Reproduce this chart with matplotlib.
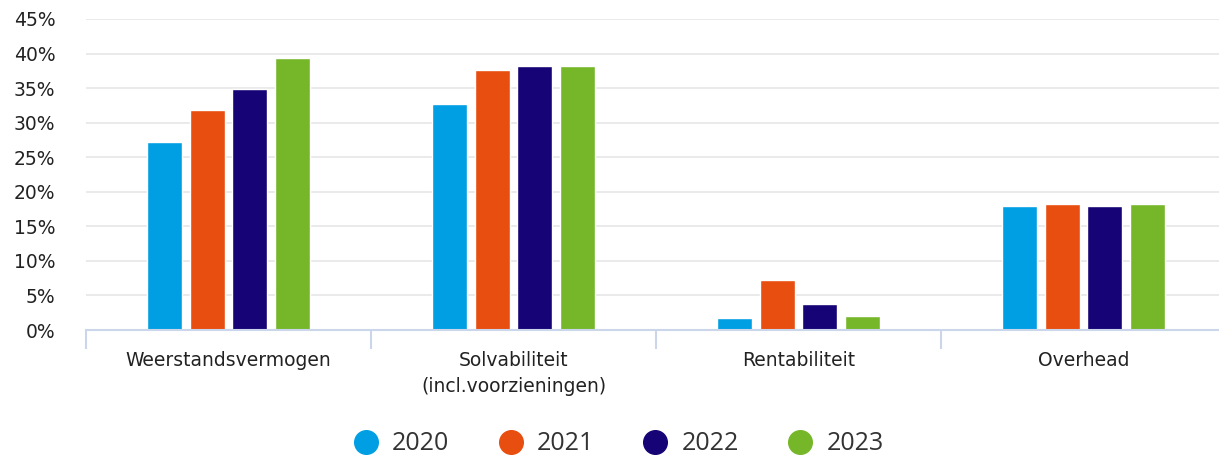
import matplotlib
matplotlib.use("Agg")
import matplotlib.pyplot as plt
from matplotlib.lines import Line2D
from matplotlib.ticker import FuncFormatter, FixedLocator
import numpy as np

plt.rcParams["font.family"] = ["DejaVu Sans"]

categories = ["Weerstandsvermogen", "Solvabiliteit\n(incl.voorzieningen)", "Rentabiliteit", "Overhead"]
years = ["2020", "2021", "2022", "2023"]
v2020 = [27.2, 32.7, 1.7, 17.9]
v2021 = [31.9, 37.6, 7.2, 18.2]
v2022 = [34.8, 38.2, 3.8, 17.9]
v2023 = [39.4, 38.2, 2.0, 18.2]
series = [v2020, v2021, v2022, v2023]
colors = ["#009FE3", "#E84E0F", "#160375", "#76B72A"]
yticks = [0, 5, 10, 15, 20, 25, 30, 35, 40, 45]

W, H = 1219, 457
fig = plt.figure(figsize=(W / 100, H / 100), dpi=100)
left, right, top, bottom = 86, 1226, 19, 330
ax = fig.add_axes([left / W, 1 - bottom / H, (right - left) / W, (bottom - top) / H])

x = np.arange(len(categories))
step, bw = 0.15, 0.122
for i, (vals, c) in enumerate(zip(series, colors)):
    ax.bar(x + (i - 1.5) * step, vals, width=bw, color=c, edgecolor="white",
           linewidth=1.0, zorder=3, label=years[i])

ax.set_xlim(-0.5, len(categories) - 0.5)
ax.set_ylim(0, 45)
ax.set_yticks(yticks)
ax.yaxis.set_major_formatter(FuncFormatter(lambda v, p: f"{int(v)}%"))
ax.grid(axis="y", color="#e6e6e6", linewidth=1.2, zorder=0)
for s in ["top", "right", "left"]:
    ax.spines[s].set_visible(False)
ax.spines["bottom"].set_color("#ccd6eb")
ax.spines["bottom"].set_linewidth(1.5)
ax.spines["bottom"].set_zorder(4)

ax.tick_params(axis="y", length=0, labelsize=13.5, labelcolor="#222222", pad=22)
ax.set_xticks(x)
ax.set_xticklabels(categories, fontsize=13.5, color="#222222", linespacing=1.45, va="top")
ax.tick_params(axis="x", which="major", length=0, pad=15)
ax.xaxis.set_minor_locator(FixedLocator(np.arange(-0.5, len(categories), 1.0)))
ax.tick_params(axis="x", which="minor", length=14, width=1.5, color="#ccd6eb")

handles = [Line2D([0], [0], marker="o", linestyle="none", markersize=17,
                  markerfacecolor=c, markeredgecolor=c) for c in colors]
fig.legend(handles, years, loc="center", bbox_to_anchor=(618.5 / W, 1 - 444 / H), ncol=4,
           frameon=False, prop={"family": "Open Sans", "size": 18},
           labelcolor="#333333", handletextpad=0.55, columnspacing=1.95,
           handlelength=1.0)

fig.savefig("out.png", dpi=100, facecolor="white")
